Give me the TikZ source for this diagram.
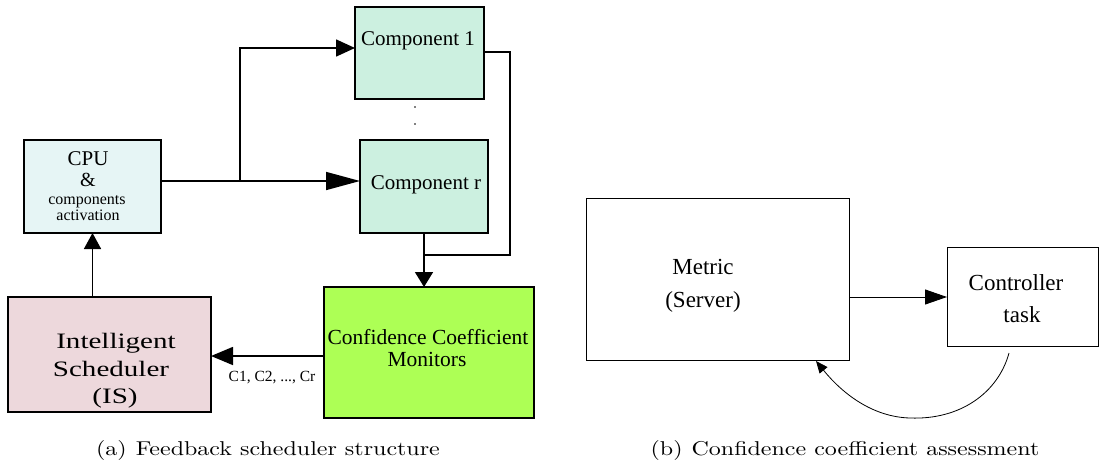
\documentclass[tikz,border=0pt]{standalone}
\usepackage{fontspec}
\setmainfont{Liberation Serif}
\newfontfamily\isfont{Liberation Serif}[FakeStretch=1.32]
\newfontfamily\capfont{lmroman10-regular.otf}[FakeStretch=1.2]
\usetikzlibrary{arrows.meta}
\definecolor{cpucol}{HTML}{E6F5F5}
\definecolor{compcol}{HTML}{CCF0E0}
\definecolor{confcol}{HTML}{ADFF55}
\definecolor{iscol}{HTML}{EDD8DC}
\begin{document}
\begin{tikzpicture}[x=1pt,y=-1pt,
  box/.style={draw, line width=2.2pt, inner sep=0pt, outer sep=0pt},
  wbox/.style={draw, line width=0.9pt, inner sep=0pt, outer sep=0pt, fill=white},
  conn/.style={line width=1.6pt},
  tconn/.style={line width=0.9pt},
  lbl/.style={anchor=base, inner sep=0pt, outer sep=0pt},
  big/.style={font=\fontsize{21}{24}\selectfont},
  small/.style={font=\fontsize{16}{18}\selectfont},
  mid/.style={font=\fontsize{23}{26}\selectfont}]
\useasboundingbox (0,0) rectangle (1099,461);

% ---- panel (a) boxes
\node[box, fill=cpucol, minimum width=137pt, minimum height=93pt] (cpu) at (92.5,186.5) {};
\node[box, fill=compcol, minimum width=129pt, minimum height=92pt] (c1) at (419.5,53) {};
\node[box, fill=compcol, minimum width=128pt, minimum height=93pt] (compr) at (424,186.5) {};
\node[box, fill=confcol, minimum width=210pt, minimum height=131pt] (conf) at (429,352.5) {};
\node[box, fill=iscol, minimum width=203pt, minimum height=115pt] (is) at (109.5,354.5) {};

% ---- texts
\node[lbl, big] (tcpu) at (88,165) {CPU};
\node[lbl, font=\fontsize{20}{24}\selectfont] (tamp) at (88,186.5) {\&};
\node[lbl, small] (tcomp) at (87,204) {components};
\node[lbl, small] (tact) at (88,220.5) {activation};
\node[lbl, big] (tc1) at (418,45) {Component 1};
\node[lbl, big] (tcr) at (426,189) {Component r};
\node[lbl, font=\fontsize{21.5}{24}\selectfont] (tconf1) at (428,344) {Confidence Coefficient};
\node[lbl, font=\fontsize{21.5}{24}\selectfont] (tconf2) at (427,366) {Monitors};
\node[lbl, font=\isfont\fontsize{22}{26}\selectfont] (tis1) at (116,348) {Intelligent};
\node[lbl, font=\isfont\fontsize{22}{26}\selectfont] (tis2) at (111,376) {Scheduler};
\node[lbl, font=\isfont\fontsize{22}{26}\selectfont] (tis3) at (115,403) {(IS)};
\node[lbl, font=\fontsize{15.5}{18}\selectfont] (tcc) at (272,381) {C1, C2, ..., Cr};

% ---- dots
\fill (415,107) circle (0.9);
\fill (415,124) circle (0.9);

% ---- connectors (a)
\coordinate (br) at (240,181);
\coordinate (c1in) at (300,48);
\coordinate (c1out) at (500,52);
\coordinate (rj) at (510,255);
\coordinate (lft) at (270,356);
\draw[conn, -{Triangle[length=34pt,width=18pt]}] (cpu.east |- br) -- (compr.west |- br);
\draw[conn, -{Triangle[length=19pt,width=17pt]}] (br) |- (c1.west |- c1in);
\draw[conn] (c1.east |- c1out) -| (rj) -- (compr.south |- rj);
\draw[conn, -{Triangle[length=15pt,width=18pt]}] (compr.south) -- (compr.south |- conf.north);
\draw[conn, -{Triangle[length=22pt,width=18pt]}] (conf.west |- lft) -- (is.east |- lft);
\draw[conn, -{Triangle[length=16pt,width=17pt]}] (cpu.south |- is.north) -- (cpu.south);

% ---- panel (b)
\node[wbox, minimum width=263pt, minimum height=162pt] (metric) at (717.5,279) {};
\node[wbox, minimum width=151pt, minimum height=99pt] (ctrl) at (1022.5,296.5) {};
\node[lbl, mid] (tm1) at (703,274) {Metric};
\node[lbl, mid] (tm2) at (703,307) {(Server)};
\node[lbl, mid] (tct1) at (1016,290) {Controller};
\node[lbl, mid] (tct2) at (1022,322) {task};
\coordinate (bm) at (900,297);
\draw[tconn, -{Triangle[length=22pt,width=15pt]}] (metric.east |- bm) -- (ctrl.west |- bm);
\coordinate (cs) at (1009,353);
\coordinate (ce) at (816,361);
\draw[line width=0.8pt, -{Triangle[length=12pt,width=10pt]}] (cs) .. controls (998,393) and (960,420) .. (910,418) .. controls (872,417) and (842,393) .. (ce);

% ---- captions
\node[lbl, font=\capfont\fontsize{20}{24}\selectfont] (capa) at (268,455) {(a)\hspace{0.45em}Feedback scheduler structure};
\node[lbl, font=\capfont\fontsize{20}{24}\selectfont] (capb) at (845,455) {(b)\hspace{0.45em}Confidence coefficient assessment};
\end{tikzpicture}
\end{document}
